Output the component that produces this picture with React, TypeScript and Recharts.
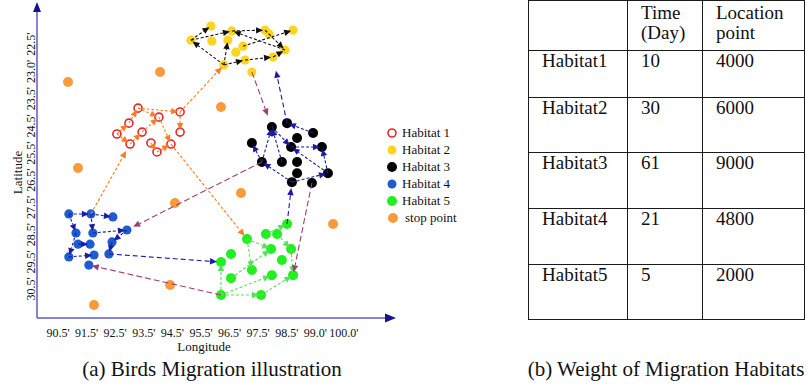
import React from 'react';
import { ScatterChart, Scatter, XAxis, YAxis, ReferenceDot, Legend } from 'recharts';

type Pt = [number, number];

const FONT = '"Liberation Serif", "Times New Roman", serif';

// axis tick labels (tick i sits at value i)
const xTickLabels = ["90.5'", "91.5'", "92.5'", "93.5'", "94.5'", "95.5'", "96.5'", "97.5'", "98.5'", "99.0'", "100.0'"];
const yTickLabels = ["30.5'", "29.5'", "28.5'", "27.5'", "26.5'", "25.5'", "24.5'", "23.5'", "23.0'", "22.5'"];
const xTitle = 'Longitude';
const yTitle = 'Latitude';

const seriesNames = ['Habitat 1', 'Habitat 2', 'Habitat 3', 'Habitat 4', 'Habitat 5', 'stop point'];

// points, in axis-tick units
const habitat1: Pt[] = [
  [2.80, 6.65], [4.27, 6.51], [3.53, 6.32], [2.48, 6.10], [4.27, 5.77], [2.06, 5.70],
  [2.94, 5.77], [2.52, 5.33], [3.25, 5.37], [3.46, 5.04], [3.95, 5.33],
];
const habitat2: Pt[] = [
  [5.35, 9.67], [4.65, 9.15], [5.38, 9.12], [6.08, 9.49], [5.94, 9.15], [6.47, 8.93],
  [6.22, 8.71], [5.80, 8.24], [6.54, 8.42], [6.78, 7.98], [7.24, 9.52], [7.38, 9.38],
  [8.22, 9.52], [7.94, 8.79], [7.52, 8.53],
];
const habitat3: Pt[] = [
  [7.48, 5.96], [8.01, 6.10], [8.92, 5.74], [8.36, 5.55], [6.78, 5.37], [8.15, 5.22],
  [9.23, 5.22], [7.13, 4.67], [7.83, 4.67], [8.36, 4.67], [8.36, 4.26], [9.44, 4.26],
  [8.18, 3.93], [8.88, 3.90],
];
const habitat4: Pt[] = [
  [0.38, 2.76], [1.15, 2.76], [1.92, 2.65], [0.63, 2.06], [1.22, 2.06], [2.41, 2.17],
  [0.70, 1.65], [1.12, 1.65], [1.89, 1.73], [0.38, 1.18], [1.26, 1.25], [1.78, 1.29],
  [1.08, 0.88],
];
const habitat5: Pt[] = [
  [6.61, 1.84], [7.27, 2.02], [7.66, 2.02], [8.01, 2.39], [6.05, 1.29], [7.45, 1.47],
  [8.15, 1.47], [5.70, 0.99], [7.83, 1.07], [6.78, 0.70], [6.05, 0.40], [7.48, 0.51],
  [8.22, 0.51], [5.70, -0.22], [7.10, -0.22],
];
const stopPoints: Pt[] = [
  [0.35, 7.61], [3.57, 7.98], [5.70, 6.69], [0.70, 4.45], [6.40, 3.53], [4.09, 3.16],
  [9.62, 2.39], [3.92, 0.15], [1.26, -0.59],
];

// migration paths inside each habitat (indices into the point lists)
const habitat1Paths = [[5, 3, 0, 1, 4], [0, 2], [7, 6, 2], [5, 7], [8, 9, 10], [2, 10]];
const habitat2Paths = [[1, 0], [7, 1], [1, 3, 10], [5, 12], [10, 13], [13, 3], [7, 4], [7, 8, 14, 13]];
const habitat3Paths = [[2, 1], [7, 4], [7, 0], [8, 0], [0, 5, 6], [11, 6], [11, 5], [12, 7], [12, 11]];
const habitat4Paths = [[0, 1, 2], [0, 3, 9, 10], [1, 4, 5, 8, 11], [6, 7]];
const habitat5Paths = [[13, 14, 12], [13, 7], [13, 11], [10, 5], [0, 5], [0, 9], [2, 6, 12], [1, 3]];

// links between habitats: [fromHabitat, fromIndex, toHabitat, toIndex]
type Link = [number, number, number, number];
const orangeLinks: Link[] = [[4, 1, 1, 7], [1, 1, 2, 7], [1, 10, 5, 0]];
const purpleLinks: Link[] = [[2, 9, 3, 0], [3, 7, 4, 5], [3, 13, 5, 12], [5, 13, 4, 12]];
const navyLinks: Link[] = [[3, 1, 2, 14], [4, 11, 5, 7], [5, 3, 3, 12]];

const habitats: Record<number, Pt[]> = { 1: habitat1, 2: habitat2, 3: habitat3, 4: habitat4, 5: habitat5 };

const COLORS = {
  red: '#e8262b',
  yellow: '#fdd420',
  black: '#000000',
  blue: '#1f5ccf',
  green: '#20ef20',
  orange: '#f99b3d',
};
const ARROW = {
  black: '#111111',
  orange: '#ff7a20',
  navy: '#1b1ba6',
  green: '#5be05b',
  purple: '#9b3f7b',
};
const AXIS = '#5d5dc6';
const AXIS_HEAD = '#14148f';
// distance (px) between arrow tip and target point, per link
const orangeGaps = [8, 3, 4];
const purpleGaps = [12, 7, 3, 3];
const navyGaps = [14, 4, 6];

const toData = (pts: Pt[]) => pts.map(([x, y]) => ({ x, y }));
const pathData = (pts: Pt[], idx: number[]) => idx.map((i) => ({ x: pts[i][0], y: pts[i][1] }));
const linkData = (l: Link) => [
  { x: habitats[l[0]][l[1]][0], y: habitats[l[0]][l[1]][1] },
  { x: habitats[l[2]][l[3]][0], y: habitats[l[2]][l[3]][1] },
];

function ArrowLine(props: any) {
  const pts = props.points || [];
  const color = props.arrowColor;
  const dash = props.arrowDash;
  const gap = props.arrowGap ?? 2;
  const els: React.ReactNode[] = [];
  for (let i = 0; i < pts.length - 1; i++) {
    const a = pts[i];
    const b = pts[i + 1];
    if (a == null || b == null || a.x == null || b.x == null) continue;
    const dx = b.x - a.x;
    const dy = b.y - a.y;
    const len = Math.hypot(dx, dy) || 1;
    const ux = dx / len;
    const uy = dy / len;
    const L = 7;
    const W = 3.2;
    const tx = b.x - ux * gap;
    const ty = b.y - uy * gap;
    const bx = tx - ux * L;
    const by = ty - uy * L;
    els.push(
      <line key={'l' + i} x1={a.x} y1={a.y} x2={bx} y2={by} stroke={color} strokeWidth={1.1} strokeDasharray={dash} />
    );
    els.push(
      <polygon
        key={'p' + i}
        points={`${tx},${ty} ${bx - uy * W},${by + ux * W} ${bx + uy * W},${by - ux * W}`}
        fill={color}
      />
    );
  }
  return <g>{els}</g>;
}

const noDot = () => <g />;
const ring = (color: string) => (p: any) => (
  <circle cx={p.cx} cy={p.cy} r={4} fill="#ffffff" stroke={color} strokeWidth={1.6} />
);
const disc = (color: string, r: number) => (p: any) => <circle cx={p.cx} cy={p.cy} r={r} fill={color} />;

const renderXTick = (p: any) => (
  <text x={p.x} y={p.y} dy="0.71em" textAnchor="middle" fontFamily={FONT} fontSize={12} fill="#111">
    {xTickLabels[p.payload.value]}
  </text>
);
const renderYTick = (p: any) => {
  const bx = p.x - 2;
  return (
    <text x={bx} y={p.y} transform={`rotate(-90 ${bx} ${p.y})`} textAnchor="middle" fontFamily={FONT} fontSize={12} fill="#111">
      {yTickLabels[p.payload.value]}
    </text>
  );
};
const renderXLabel = (p: any) => {
  const vb = p && p.viewBox ? p.viewBox : { x: 37, y: 318 };
  return (
    <text x={vb.x + 167} y={vb.y + 32.5} textAnchor="middle" fontFamily={FONT} fontSize={13} fill="#111">
      {xTitle}
    </text>
  );
};
const renderYLabel = (p: any) => {
  const vb = p && p.viewBox ? p.viewBox : { x: 7, y: 10 };
  const x = vb.x + 14.5;
  const y = vb.y + 162.5;
  return (
    <text x={x} y={y} transform={`rotate(-90 ${x} ${y})`} textAnchor="middle" fontFamily={FONT} fontSize={13} fill="#111">
      {yTitle}
    </text>
  );
};

const legendMarkers = [
  <circle cx={7} cy={7} r={4} fill="#fff" stroke={COLORS.red} strokeWidth={1.6} />,
  <circle cx={7} cy={7} r={4.5} fill={COLORS.yellow} />,
  <circle cx={7} cy={7} r={5} fill={COLORS.black} />,
  <circle cx={7} cy={7} r={4.5} fill={COLORS.blue} />,
  <circle cx={7} cy={7} r={5} fill={COLORS.green} />,
  <circle cx={8} cy={7} r={5} fill={COLORS.orange} />,
];

const renderLegend = () => (
  <div style={{ fontFamily: FONT, fontSize: 13, color: '#111' }}>
    {seriesNames.map((n, i) => (
      <div key={n} style={{ display: 'flex', alignItems: 'center', height: 17.1, whiteSpace: 'nowrap' }}>
        <svg width={14} height={14} style={{ flex: 'none' }}>
          {legendMarkers[i]}
        </svg>
        <span style={{ marginLeft: i === 5 ? 6 : 3 }}>{n}</span>
      </div>
    ))}
  </div>
);

const tableHeader = ['', 'Time\n(Day)', 'Location\npoint'];
const tableRows = ['Habitat1', 'Habitat2', 'Habitat3', 'Habitat4', 'Habitat5'];
const tableTime = ['10', '30', '61', '21', '5'];
const tableLocation = ['4000', '6000', '9000', '4800', '2000'];
const rowHeights = [50, 47, 55, 56, 56, 55];
const colWidths = [99, 75, 102];

const captionA = '(a) Birds Migration illustration';
const captionB = '(b) Weight of Migration Habitats';

export default function App() {
  const cell: React.CSSProperties = {
    border: '1.5px solid #1a1a1a',
    verticalAlign: 'top',
    padding: '0 0 0 13px',
    fontSize: 19,
    lineHeight: '20px',
    whiteSpace: 'pre',
    color: '#111',
  };
  return (
    <div style={{ position: 'absolute', left: 0, top: 0, width: 809, height: 388, background: '#fff', fontFamily: FONT }}>
      <ScatterChart width={809} height={388} margin={{ top: 10, right: 421, bottom: 40, left: 7 }}>
        <XAxis
          type="number"
          dataKey="x"
          domain={[-0.734, 11.54]}
          allowDataOverflow
          ticks={xTickLabels.map((_, i) => i)}
          interval={0}
          tickLine={false}
          tickSize={0}
          tickMargin={10}
          height={30}
          axisLine={{ stroke: AXIS, strokeWidth: 1.5 }}
          tick={renderXTick}
          label={renderXLabel}
        />
        <YAxis
          type="number"
          dataKey="y"
          domain={[-1.066, 10.26]}
          allowDataOverflow
          ticks={yTickLabels.map((_, i) => i)}
          interval={0}
          tickLine={false}
          tickSize={0}
          tickMargin={0}
          width={30}
          axisLine={{ stroke: AXIS, strokeWidth: 1.5 }}
          tick={renderYTick}
          label={renderYLabel}
        />
        <Legend
          layout="vertical"
          align="center"
          verticalAlign="middle"
          content={renderLegend}
          wrapperStyle={{ left: 385, top: 124, width: 120 }}
        />

        <Scatter name={seriesNames[5]} data={toData(stopPoints)} shape={disc(COLORS.orange, 5)} isAnimationActive={false} />
        <Scatter name={seriesNames[0]} data={toData(habitat1)} shape={ring(COLORS.red)} isAnimationActive={false} />
        <Scatter name={seriesNames[1]} data={toData(habitat2)} shape={disc(COLORS.yellow, 4.6)} isAnimationActive={false} />
        <Scatter name={seriesNames[2]} data={toData(habitat3)} shape={disc(COLORS.black, 5)} isAnimationActive={false} />
        <Scatter name={seriesNames[3]} data={toData(habitat4)} shape={disc(COLORS.blue, 4.6)} isAnimationActive={false} />
        <Scatter name={seriesNames[4]} data={toData(habitat5)} shape={disc(COLORS.green, 5)} isAnimationActive={false} />

        {habitat1Paths.map((p, i) => (
          <Scatter key={'p1' + i} legendType="none" data={pathData(habitat1, p)} shape={noDot} isAnimationActive={false}
            line={<ArrowLine arrowColor={ARROW.orange} arrowDash="2.5 2" arrowGap={2} />} />
        ))}
        {habitat2Paths.map((p, i) => (
          <Scatter key={'p2' + i} legendType="none" data={pathData(habitat2, p)} shape={noDot} isAnimationActive={false}
            line={<ArrowLine arrowColor={ARROW.black} arrowDash="3 2" arrowGap={2} />} />
        ))}
        {habitat3Paths.map((p, i) => (
          <Scatter key={'p3' + i} legendType="none" data={pathData(habitat3, p)} shape={noDot} isAnimationActive={false}
            line={<ArrowLine arrowColor={ARROW.navy} arrowDash="3 2" arrowGap={2} />} />
        ))}
        {habitat4Paths.map((p, i) => (
          <Scatter key={'p4' + i} legendType="none" data={pathData(habitat4, p)} shape={noDot} isAnimationActive={false}
            line={<ArrowLine arrowColor={ARROW.navy} arrowDash="3 2" arrowGap={2} />} />
        ))}
        {habitat5Paths.map((p, i) => (
          <Scatter key={'p5' + i} legendType="none" data={pathData(habitat5, p)} shape={noDot} isAnimationActive={false}
            line={<ArrowLine arrowColor={ARROW.green} arrowDash="3 2" arrowGap={2} />} />
        ))}
        {orangeLinks.map((l, i) => (
          <Scatter key={'lo' + i} legendType="none" data={linkData(l)} shape={noDot} isAnimationActive={false}
            line={<ArrowLine arrowColor={ARROW.orange} arrowDash="3 2" arrowGap={orangeGaps[i]} />} />
        ))}
        {purpleLinks.map((l, i) => (
          <Scatter key={'lp' + i} legendType="none" data={linkData(l)} shape={noDot} isAnimationActive={false}
            line={<ArrowLine arrowColor={ARROW.purple} arrowDash="6 3" arrowGap={purpleGaps[i]} />} />
        ))}
        {navyLinks.map((l, i) => (
          <Scatter key={'ln' + i} legendType="none" data={linkData(l)} shape={noDot} isAnimationActive={false}
            line={<ArrowLine arrowColor={ARROW.navy} arrowDash="5 3" arrowGap={navyGaps[i]} />} />
        ))}

        <ReferenceDot
          x={11.54}
          y={-1.066}
          r={0}
          ifOverflow="visible"
          shape={(p: any) => (
            <polygon points={`${p.cx + 8},${p.cy} ${p.cx - 3},${p.cy - 4.5} ${p.cx - 3},${p.cy + 4.5}`} fill={AXIS_HEAD} />
          )}
        />
        <ReferenceDot
          x={-0.734}
          y={10.26}
          r={0}
          ifOverflow="visible"
          shape={(p: any) => (
            <polygon points={`${p.cx},${p.cy - 8} ${p.cx - 4},${p.cy + 2} ${p.cx + 4},${p.cy + 2}`} fill={AXIS_HEAD} />
          )}
        />
      </ScatterChart>

      <table
        style={{
          position: 'absolute',
          left: 528,
          top: 0,
          borderCollapse: 'collapse',
          tableLayout: 'fixed',
          fontFamily: FONT,
        }}
      >
        <colgroup>
          {colWidths.map((w, i) => (
            <col key={i} style={{ width: w }} />
          ))}
        </colgroup>
        <tbody>
          <tr style={{ height: rowHeights[0] }}>
            {tableHeader.map((h, i) => (
              <td key={i} style={{ ...cell, paddingTop: 2 }}>{h}</td>
            ))}
          </tr>
          {tableRows.map((r, i) => (
            <tr key={r} style={{ height: rowHeights[i + 1] }}>
              <td style={cell}>{r}</td>
              <td style={cell}>{tableTime[i]}</td>
              <td style={cell}>{tableLocation[i]}</td>
            </tr>
          ))}
        </tbody>
      </table>

      <div style={{ position: 'absolute', left: 12, top: 357, width: 400, textAlign: 'center', fontSize: 21, lineHeight: '24px', whiteSpace: 'nowrap', color: '#111' }}>
        {captionA}
      </div>
      <div style={{ position: 'absolute', left: 466, top: 357, width: 400, textAlign: 'center', fontSize: 21, lineHeight: '24px', whiteSpace: 'nowrap', color: '#111' }}>
        {captionB}
      </div>
    </div>
  );
}
